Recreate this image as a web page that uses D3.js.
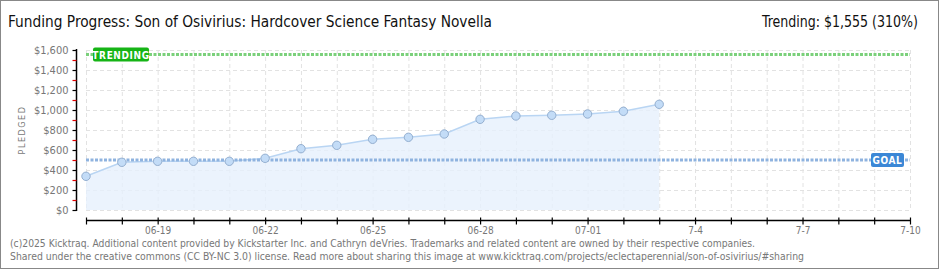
<!DOCTYPE html>
<html>
<head>
<meta charset="utf-8">
<script src="https://cdn.jsdelivr.net/npm/d3@7"></script>
<style>
  body { margin: 0; background: #fff; }
  svg text { font-family: "DejaVu Sans Condensed", "DejaVu Sans", sans-serif; }
</style>
</head>
<body>
<div id="chart"></div>
<script>
// data
var days = ["06-17","06-18","06-19","06-20","06-21","06-22","06-23","06-24","06-25",
            "06-26","06-27","06-28","06-29","06-30","07-01","07-02","07-03"];
var pledged = [337, 477, 487, 487, 487, 517, 613, 647, 707,
               727, 760, 907, 940, 947, 960, 987, 1057];
var goal = 500;
var trending = 1555;
var yTicks = [0, 200, 400, 600, 800, 1000, 1200, 1400, 1600];
var xLabels = {"06-19": "06-19", "06-22": "06-22", "06-25": "06-25", "06-28": "06-28",
               "07-01": "07-01", "07-04": "7-4", "07-07": "7-7", "07-10": "7-10"};

var W = 940, H = 270;
var margin = {top: 50, left: 86, right: 30, bottom: 60};

var parse = d3.timeParse("%Y-%m-%d");
var dateOf = s => parse("2025-" + s);

var svg = d3.select("#chart").append("svg")
  .attr("width", W).attr("height", H);

// frame
svg.append("rect")
  .attr("x", 0.5).attr("y", 0.5)
  .attr("width", 938).attr("height", 268)
  .attr("fill", "#fff").attr("stroke", "#888");

var x = d3.scaleTime()
  .domain([dateOf("06-17"), dateOf("07-10")])
  .range([86, 910]);

var y = d3.scaleLinear()
  .domain([0, 1600])
  .range([210, 50]);

var allDays = d3.timeDay.range(dateOf("06-17"), d3.timeDay.offset(dateOf("07-10"), 1));

// grid
svg.append("g").selectAll("line").data(allDays).join("line")
  .attr("x1", d => x(d) + 0.5).attr("x2", d => x(d) + 0.5)
  .attr("y1", y(1600)).attr("y2", y(0))
  .attr("stroke", "#e2e2e2").attr("stroke-dasharray", "4,3");

svg.append("g").selectAll("line").data(yTicks).join("line")
  .attr("x1", x.range()[0]).attr("x2", x.range()[1])
  .attr("y1", d => y(d) + 0.5).attr("y2", d => y(d) + 0.5)
  .attr("stroke", "#e2e2e2").attr("stroke-dasharray", "4,3");

// area + line
var pts = days.map((d, i) => ({date: dateOf(d), v: pledged[i]}));

svg.append("path").datum(pts)
  .attr("d", d3.area().x(d => x(d.date)).y0(y(0)).y1(d => y(d.v)))
  .attr("fill", "#e6f0fc").attr("opacity", 0.8);

svg.append("path").datum(pts)
  .attr("d", d3.line().x(d => x(d.date)).y(d => y(d.v)))
  .attr("fill", "none").attr("stroke", "#b9d5f3").attr("stroke-width", 1.5);

// goal line
svg.append("line")
  .attr("x1", x.range()[0]).attr("x2", x.range()[1])
  .attr("y1", y(goal)).attr("y2", y(goal))
  .attr("stroke", "#8fb3df").attr("stroke-width", 3).attr("stroke-dasharray", "3,1.5");

// trending line
svg.append("line")
  .attr("x1", x.range()[0]).attr("x2", x.range()[1])
  .attr("y1", y(trending)).attr("y2", y(trending))
  .attr("stroke", "#7bd07b").attr("stroke-width", 3).attr("stroke-dasharray", "3,1.5");

// points
svg.append("g").selectAll("circle").data(pts).join("circle")
  .attr("cx", d => x(d.date)).attr("cy", d => y(d.v))
  .attr("r", 4.2)
  .attr("fill", "#c3dcf7").attr("stroke", "#94afd0").attr("stroke-width", 1);

// y axis
var yAxis = svg.append("g").attr("transform", "translate(76.5,0)");
yAxis.append("line").attr("y1", y(1600) - 1).attr("y2", y(0) + 1)
  .attr("stroke", "#000").attr("stroke-width", 1.5);
yAxis.selectAll(".minor").data(d3.range(100, 1600, 200)).join("line")
  .attr("x1", -4).attr("x2", 0)
  .attr("y1", d => y(d) + 0.5).attr("y2", d => y(d) + 0.5)
  .attr("stroke", "#e00000").attr("stroke-width", 1.2);
yAxis.selectAll(".major").data(yTicks).join("line")
  .attr("x1", -4).attr("x2", 0)
  .attr("y1", d => y(d) + 0.5).attr("y2", d => y(d) + 0.5)
  .attr("stroke", "#000").attr("stroke-width", 1.2);
yAxis.selectAll("text").data(yTicks).join("text")
  .attr("x", -8).attr("y", d => y(d) + 4)
  .attr("text-anchor", "end")
  .attr("font-size", 11).attr("fill", "#777")
  .text(d => "$" + d3.format(",")(d));

svg.append("text")
  .attr("transform", "translate(25,130) rotate(-90)")
  .attr("text-anchor", "middle")
  .attr("font-size", 9).attr("letter-spacing", 1.5).attr("fill", "#777")
  .text("PLEDGED");

// x axis
var xAxis = svg.append("g").attr("transform", "translate(0,220.5)");
xAxis.append("line").attr("x1", x.range()[0]).attr("x2", x.range()[1])
  .attr("stroke", "#000").attr("stroke-width", 1.5);
xAxis.selectAll("line.t").data(allDays).join("line")
  .attr("class", "t")
  .attr("x1", d => x(d) + 0.5).attr("x2", d => x(d) + 0.5)
  .attr("y1", -3).attr("y2", 4)
  .attr("stroke", "#000").attr("stroke-width", 1.2);
var fmt = d3.timeFormat("%m-%d");
xAxis.selectAll("text").data(allDays.filter(d => xLabels[fmt(d)])).join("text")
  .attr("x", d => x(d) + 0.5).attr("y", 13)
  .attr("text-anchor", "middle")
  .attr("font-size", 10).attr("fill", "#777")
  .text(d => xLabels[fmt(d)]);

// badges
function badge(cx0, cy0, w, h, color, label) {
  svg.append("rect")
    .attr("x", cx0).attr("y", cy0).attr("width", w).attr("height", h)
    .attr("rx", 2).attr("fill", color);
  svg.append("text")
    .attr("x", cx0 + w / 2).attr("y", cy0 + h / 2 + 4)
    .attr("text-anchor", "middle")
    .attr("font-size", 10).attr("font-weight", "bold").attr("letter-spacing", 0.6)
    .attr("fill", "#fff").text(label);
}
badge(93, y(trending) - 7, 56, 14, "#16b416", "TRENDING");
badge(871, y(goal) - 7, 33, 14, "#3b87d6", "GOAL");

// titles
svg.append("text")
  .attr("x", 8).attr("y", 27)
  .attr("font-size", 16).attr("fill", "#111")
  .attr("textLength", 484).attr("lengthAdjust", "spacingAndGlyphs")
  .text("Funding Progress: Son of Osivirius: Hardcover Science Fantasy Novella");

svg.append("text")
  .attr("x", 918).attr("y", 27)
  .attr("text-anchor", "end")
  .attr("font-size", 16).attr("fill", "#111")
  .attr("textLength", 156).attr("lengthAdjust", "spacingAndGlyphs")
  .text("Trending: $1,555 (310%)");

// footer
svg.append("text")
  .attr("x", 10).attr("y", 247)
  .attr("font-size", 10).attr("fill", "#777")
  .attr("textLength", 745).attr("lengthAdjust", "spacingAndGlyphs")
  .text("(c)2025 Kicktraq. Additional content provided by Kickstarter Inc. and Cathryn deVries. Trademarks and related content are owned by their respective companies.");
svg.append("text")
  .attr("x", 10).attr("y", 260)
  .attr("font-size", 10).attr("fill", "#777")
  .attr("textLength", 794).attr("lengthAdjust", "spacingAndGlyphs")
  .text("Shared under the creative commons (CC BY-NC 3.0) license. Read more about sharing this image at www.kicktraq.com/projects/eclectaperennial/son-of-osivirius/#sharing");
</script>
</body>
</html>
